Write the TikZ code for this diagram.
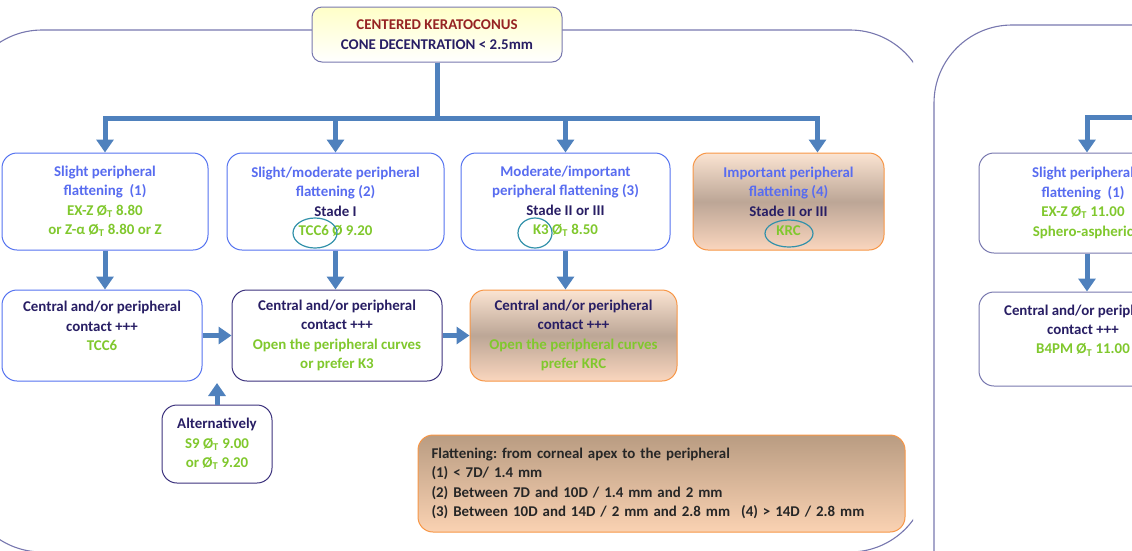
\documentclass[tikz,border=0pt]{standalone}
\usepackage{fontspec}
\setmainfont{Carlito}
\usetikzlibrary{arrows.meta}
\frenchspacing

\definecolor{flowblue}{RGB}{79,129,189}
\definecolor{boxblue}{RGB}{85,115,240}
\definecolor{headblue}{RGB}{88,108,240}
\definecolor{inkblue}{RGB}{40,30,100}
\definecolor{inkline}{RGB}{60,50,125}
\definecolor{lensgreen}{RGB}{128,200,45}
\definecolor{conered}{RGB}{150,35,35}
\definecolor{warmedge}{RGB}{247,150,70}
\definecolor{warmlight}{RGB}{251,228,210}
\definecolor{warmdark}{RGB}{188,166,150}
\definecolor{warmlow}{RGB}{250,214,190}
\definecolor{legendtop}{RGB}{185,156,130}
\definecolor{legendlow}{RGB}{250,210,178}
\definecolor{panelline}{RGB}{120,120,175}
\definecolor{ringteal}{RGB}{50,145,170}
\definecolor{paleyellow}{RGB}{255,255,200}

\newcommand\flattxt[1]{\textcolor{headblue}{#1}}
\newcommand\stadetxt[1]{\textcolor{inkblue}{#1}}
\newcommand\lenstxt[1]{\textcolor{lensgreen}{#1}}
\newcommand\diamT{Ø\textsubscript{T}}

\tikzset{
  every node/.style={font=\fontsize{14.9}{19.4}\selectfont\bfseries},
  flowbox/.style={draw=boxblue, line width=1pt, rounded corners=15pt, fill=white,
    align=center, inner sep=0pt},
  inkbox/.style={flowbox, draw=inkline},
  warmbox/.style={flowbox, draw=warmedge, top color=warmlight, bottom color=warmlow,
    middle color=warmdark},
  flowbar/.style={draw=flowblue, line width=5pt},
  flow/.style={flowbar, -{Triangle[width=17pt,length=13pt]}},
  panel/.style={draw=panelline, line width=1.1pt, rounded corners=78pt},
  ring/.style={draw=ringteal, line width=1.2pt}
}

\begin{document}
\begin{tikzpicture}[x=1pt, y=-1pt]
    \useasboundingbox (0,0) rectangle (1132,550);
    \clip (0,0) rectangle (1132,550);

    % the two background panels
    \begin{scope}
        \clip (-60,0) rectangle (913,560);
        \draw[panel] (-36,30) rectangle (928,552);
    \end{scope}
    \draw[panel] (934,25) rectangle (1300,700);

    % heading
    \node[inkbox, draw=panelline, rounded corners=10pt, top color=paleyellow, bottom color=white,
        minimum width=250pt, minimum height=55pt] (top) at (437,34.5)
        {\textcolor{conered}{CENTERED KERATOCONUS}\\ \stadetxt{CONE DECENTRATION < 2.5mm}};

    % flattening grades
    \node[flowbox, minimum width=206pt, minimum height=97pt] (a1) at (105,201.5)
        {\flattxt{Slight peripheral}\\ \flattxt{flattening\ \ (1)}\\
         \lenstxt{EX-Z \diamT\ 8.80}\\ \lenstxt{or Z-α \diamT\ 8.80 or Z}};
    \node[flowbox, minimum width=217pt, minimum height=97pt] (a2) at (335.5,201.5)
        {\flattxt{Slight/moderate peripheral}\\ \flattxt{flattening (2)}\\
         \stadetxt{Stade I}\\ \lenstxt{TCC6 Ø 9.20}};
    \node[flowbox, minimum width=209pt, minimum height=97pt] (a3) at (565.5,201.5)
        {\flattxt{Moderate/important}\\ \flattxt{peripheral flattening (3)}\\
         \stadetxt{Stade II or III}\\ \lenstxt{K3 \diamT\ 8.50}};
    \node[warmbox, minimum width=191pt, minimum height=97pt] (a4) at (788.5,201.5)
        {\flattxt{Important peripheral}\\ \flattxt{flattening (4)}\\
         \stadetxt{Stade II or III}\\ \lenstxt{KRC}};

    % contact boxes
    \node[flowbox, minimum width=200pt, minimum height=91pt] (b1) at (102,335.5)
        {\stadetxt{Central and/or peripheral}\\ \stadetxt{contact +++}\\
         \lenstxt{TCC6}\\ \mbox{}};
    \node[inkbox, minimum width=210pt, minimum height=91pt] (b2) at (337,335.5)
        {\stadetxt{Central and/or peripheral}\\ \stadetxt{contact +++}\\
         \lenstxt{Open the peripheral curves}\\ \lenstxt{or prefer K3}};
    \node[warmbox, minimum width=207pt, minimum height=91pt] (b3) at (573.5,335.5)
        {\stadetxt{Central and/or peripheral}\\ \stadetxt{contact +++}\\
         \lenstxt{Open the peripheral curves}\\ \lenstxt{prefer KRC}};

    \node[inkbox, minimum width=110pt, minimum height=78pt] (alt) at (217,444)
        {\stadetxt{Alternatively}\\ \lenstxt{S9 \diamT\ 9.00}\\ \lenstxt{or \diamT\ 9.20}};
    \coordinate (altend) at (217,383);

    % legend
    \node[warmbox, top color=legendtop, bottom color=legendlow, align=left,
        minimum width=487pt, minimum height=97pt, text width=460pt] (legend) at (661.5,483.5)
        {\textcolor{black!85}{Flattening: from corneal apex to the peripheral}\\
         \textcolor{black!85}{(1) < 7D/ 1.4 mm}\\
         \textcolor{black!85}{(2) Between 7D and 10D / 1.4 mm and 2 mm}\\
         \textcolor{black!85}{(3) Between 10D and 14D / 2 mm and 2.8 mm\hspace{11pt}(4) > 14D / 2.8 mm}};

    % right panel
    \node[inkbox, draw=panelline, minimum width=208pt, minimum height=100pt] (r1) at (1083,203)
        {\flattxt{Slight peripheral}\\ \flattxt{flattening\ \ (1)}\\
         \lenstxt{EX-Z \diamT\ 11.00}\\ \lenstxt{Sphero-aspheric}};
    \node[inkbox, draw=panelline, minimum width=208pt, minimum height=94pt] (r2) at (1083,339)
        {\stadetxt{Central and/or peripheral}\\ \stadetxt{contact +++}\\
         \lenstxt{B4PM \diamT\ 11.00}\\ \mbox{}};
    \coordinate (rbar) at (1140,117);

    % connectors
    \coordinate (bar) at (0,118);
    \foreach \n in {a1,a2,a3} \draw[flow] (top.south) -- (top.south |- bar) -| (\n.north);
    \draw[flow] (top.south) -- (top.south |- bar) -| ([xshift=29pt]a4.north);
    \foreach \u/\d in {a1/b1,a2/b2,a3/b3} \draw[flow] (\u.south) -- (\u.south |- \d.north);
    \draw[flow] (b1) -- (b2);
    \draw[flow] (b2) -- (b3);
    \draw[flow] (alt.north) -- (altend);
    \draw[flow] (rbar) -| ([xshift=4pt]r1.north);
    \draw[flow] ([xshift=4pt]r1.south) -- ([xshift=4pt]r2.north);

    % rings round the lens names
    \draw[ring] (315,233) ellipse (22pt and 15pt);
    \draw[ring] (535,233) ellipse (17pt and 15pt);
    \draw[ring] (789,233.5) ellipse (24pt and 13.5pt);
\end{tikzpicture}
\end{document}
